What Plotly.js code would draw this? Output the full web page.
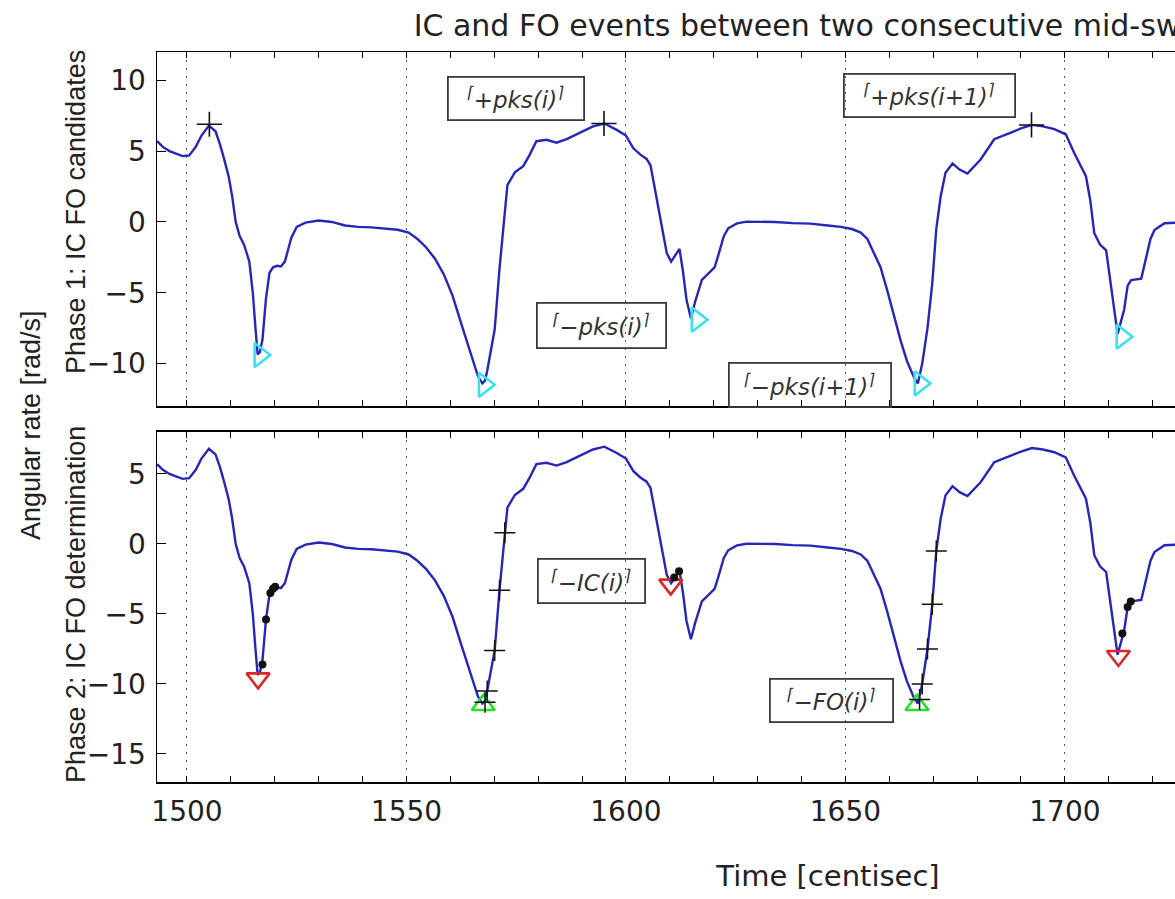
<!DOCTYPE html>
<html>
<head>
<meta charset="utf-8">
<script src="https://cdn.plot.ly/plotly-3.0.1.min.js"></script>
<style>
html, body { margin: 0; padding: 0; overflow: hidden; background: #fff; }
#chart { width: 1520px; height: 899px; }
</style>
</head>
<body>
<div id="chart"></div>
<script>
// ---- data ----
const time = [1493.2, 1494.5, 1496, 1497.5, 1499, 1500.5, 1502, 1503.3, 1505, 1506.5,
  1507.5, 1508.5, 1509.5, 1510.3, 1511.1, 1512, 1513, 1514.2, 1515, 1515.6,
  1516.1, 1516.6, 1517.2, 1518, 1518.8, 1519.6, 1520.5, 1521.4, 1522.3, 1523,
  1523.8, 1525, 1527, 1530, 1533, 1536, 1539, 1542, 1545, 1548,
  1550.5, 1552.5, 1554.5, 1556.5, 1558.5, 1560.5, 1562.5, 1564.5, 1566.3, 1567.3,
  1567.9, 1568.4, 1569.2, 1570.1, 1571.2, 1572.4, 1573, 1574.7, 1576.6, 1578,
  1579.6, 1581.9, 1584.2, 1586.5, 1588.7, 1592.5, 1595.1, 1597.9, 1600, 1601.7,
  1603.3, 1604.7, 1605.6, 1606.5, 1607.5, 1608.5, 1609.3, 1610.3, 1611.2, 1612.2,
  1613, 1613.8, 1614.8, 1615.8, 1617.3, 1618.8, 1620.2, 1621, 1622.3, 1623.3,
  1625.3, 1627.5, 1630, 1634, 1638, 1642, 1646, 1649, 1651.5, 1653.5,
  1655, 1656.5, 1658, 1659.5, 1661, 1662.6, 1664, 1665.5, 1666.5, 1667.5,
  1668.7, 1669.8, 1670.7, 1671.7, 1672.8, 1674.4, 1676, 1677.8, 1680.8, 1683.9,
  1687.7, 1690, 1692.5, 1695, 1697.6, 1700.2, 1702.1, 1704, 1704.8, 1705.8,
  1706.7, 1708, 1709.4, 1710.5, 1711.4, 1712, 1712.8, 1713.5, 1714.3, 1715.1,
  1717.4, 1718.5, 1719.5, 1720.4, 1722.7, 1725.6];
const rate = [5.7, 5.3, 5.0, 4.85, 4.65, 4.7, 5.3, 6.1, 6.8, 6.4,
  5.5, 4.4, 3.2, 1.8, 0.0, -1.0, -1.6, -2.8, -5.0, -7.5,
  -9.35, -9.2, -8.3, -5.4, -3.6, -3.2, -3.1, -3.15, -2.8, -2.0,
  -1.1, -0.35, -0.05, 0.1, 0.0, -0.25, -0.35, -0.38, -0.45, -0.55,
  -0.75, -1.2, -1.8, -2.6, -3.7, -5.2, -7.2, -9.2, -10.9, -11.4,
  -11.2, -10.5, -9.0, -7.6, -3.3, 0.8, 2.6, 3.5, 3.94, 4.7,
  5.7, 5.8, 5.6, 5.85, 6.2, 6.75, 6.95, 6.5, 6.1, 5.2,
  4.75, 4.45, 4.0, 2.5, 0.8, -1.0, -2.2, -2.8, -2.4, -1.9,
  -3.5, -5.5, -6.8, -5.6, -4.1, -3.65, -3.2, -2.4, -1.0, -0.45,
  -0.1, 0.02, 0.03, 0.0, -0.08, -0.12, -0.25, -0.35, -0.5, -0.75,
  -1.2, -2.2, -3.2, -4.8, -6.6, -8.4, -9.8, -10.9, -11.4, -10.0,
  -7.5, -4.3, -0.5, 1.8, 3.47, 4.13, 3.7, 3.42, 4.41, 5.84,
  6.31, 6.6, 6.85, 6.75, 6.55, 6.19, 4.89, 3.8, 3.23, 1.5,
  -0.8, -1.6, -2.0, -4.5, -6.8, -7.9, -7.0, -6.2, -4.5, -4.1,
  -4.0, -2.5, -1.2, -0.57, -0.09, -0.05];

// Phase 1 candidates
const posPeakT = [1505.1, 1595.0, 1692.4];
const posPeakV = [6.9, 6.95, 6.85];
const negPeakT = [1516.6, 1567.7, 1616.2, 1667.0, 1713.0];
const negPeakV = [-9.4, -11.5, -6.9, -11.4, -8.1];

// Phase 2 determination
const icT = [1516.2, 1610.2, 1712.2];
const icV = [-9.6, -2.9, -8.0];
const foT = [1567.5, 1666.3];
const foV = [-11.5, -11.5];
const icCandT = [1517.2, 1518.0, 1519.0, 1519.6, 1520.1, 1611.0, 1612.1, 1713.1, 1714.3, 1715.0];
const icCandV = [-8.6, -5.4, -3.5, -3.2, -3.05, -2.4, -1.95, -6.4, -4.5, -4.1];
const foCandT = [1567.9, 1568.4, 1570.1, 1571.2, 1572.4, 1666.9, 1667.5, 1668.7, 1669.8, 1670.7];
const foCandV = [-11.3, -10.5, -7.6, -3.3, 0.8, -11.1, -10.0, -7.5, -4.3, -0.5];

// tick labels shown on the time axis
const timeTicks = [1500, 1550, 1600, 1650, 1700];

const lineBlue = '#2626b8';
const traces = [
  {x: time, y: rate, xaxis: 'x', yaxis: 'y', mode: 'lines', line: {color: lineBlue, width: 2.4}, hoverinfo: 'skip'},
  {x: posPeakT, y: posPeakV, xaxis: 'x', yaxis: 'y', mode: 'markers',
   marker: {symbol: 'cross-thin', size: 18, color: '#111', line: {color: '#111', width: 1.6}}},
  {x: negPeakT, y: negPeakV, xaxis: 'x', yaxis: 'y', mode: 'markers',
   marker: {symbol: 'triangle-right-open', size: 21, color: '#3ae2ef', line: {color: '#3ae2ef', width: 2.6}}},

  {x: time, y: rate, xaxis: 'x2', yaxis: 'y2', mode: 'lines', line: {color: lineBlue, width: 2.4}, hoverinfo: 'skip'},
  {x: icT, y: icV, xaxis: 'x2', yaxis: 'y2', mode: 'markers',
   marker: {symbol: 'triangle-down-open', size: 20, color: '#d8282a', line: {color: '#d8282a', width: 2.6}}},
  {x: foT, y: foV, xaxis: 'x2', yaxis: 'y2', mode: 'markers',
   marker: {symbol: 'triangle-up-open', size: 20, color: '#2bdc2b', line: {color: '#2bdc2b', width: 2.6}}},
  {x: icCandT, y: icCandV, xaxis: 'x2', yaxis: 'y2', mode: 'markers',
   marker: {symbol: 'circle', size: 8, color: '#111'}},
  {x: foCandT, y: foCandV, xaxis: 'x2', yaxis: 'y2', mode: 'markers',
   marker: {symbol: 'cross-thin', size: 15, color: '#111', line: {color: '#111', width: 1.5}}}
];

const HFONT = 'DejaVu Sans, Verdana, sans-serif';      // horizontal texts (wide, as in the reference)
const VFONT = 'Liberation Sans, Arial, sans-serif';    // rotated texts
const xCommon = {
  range: [1493.17, 1798.9], tickmode: 'array', tickvals: timeTicks, ticktext: timeTicks.map(String),
  ticks: 'inside', ticklen: 6, tickcolor: '#000',
  showline: true, linecolor: '#000', linewidth: 1.5, mirror: 'ticks',
  showgrid: true, gridcolor: '#555', gridwidth: 1, griddash: '2px,6px', zeroline: false,
  minor: {dtick: 10, tick0: 1500, ticks: 'inside', ticklen: 6, tickcolor: '#000', showgrid: false},
  tickfont: {family: HFONT, size: 28, color: '#222'}, fixedrange: true
};
const yCommon = {
  tick0: 0, dtick: 5, ticks: 'inside', ticklen: 9, tickcolor: '#000',
  showline: true, linecolor: '#000', linewidth: 1.5, mirror: 'ticks',
  showgrid: false, zeroline: false, ticklabelstandoff: 4,
  tickfont: {family: HFONT, size: 28, color: '#222'}, fixedrange: true
};

function box(text, x, y, yref, w, h) {
  return {
    text: '<sup>⌈</sup>' + text + '<sup>⌉</sup>', x: x, y: y, xref: 'x', yref: yref, showarrow: false,
    xanchor: 'center', yanchor: 'middle', width: w - 11, height: h - 11,
    bordercolor: '#3a3a3a', borderwidth: 1.8, borderpad: 4, bgcolor: 'rgba(255,255,255,0)',
    font: {family: HFONT, size: 23, color: '#333', style: 'italic'}
  };
}
function vlabel(text, xpx, ypx) {
  // positions given in page pixels, converted to paper fractions of the plot area (157..1499, 52..782)
  return {text: text, xref: 'paper', yref: 'paper', x: (xpx - 157) / 1342, y: (782 - ypx) / 730,
    textangle: -90, showarrow: false, xanchor: 'center', yanchor: 'middle',
    font: {family: VFONT, size: 27, color: '#222'}};
}

const layout = {
  width: 1520, height: 899,
  margin: {l: 157, r: 21, t: 52, b: 117},
  paper_bgcolor: '#fff', plot_bgcolor: '#fff', showlegend: false,
  title: {text: 'IC and FO events between two consecutive mid-swings',
          font: {family: HFONT, size: 30, color: '#222'},
          x: 0.5, xref: 'paper', xanchor: 'center', y: 0.972, yref: 'container', yanchor: 'middle'},
  xaxis: Object.assign({}, xCommon, {anchor: 'y', domain: [0, 1], showticklabels: false}),
  yaxis: Object.assign({}, yCommon, {anchor: 'x', domain: [0.515, 1], range: [-13, 12]}),
  xaxis2: Object.assign({}, xCommon, {anchor: 'y2', domain: [0, 1], showticklabels: true, ticklabelstandoff: 4,
    title: {text: 'Time [centisec]', standoff: 38, font: {family: HFONT, size: 29, color: '#222'}}}),
  yaxis2: Object.assign({}, yCommon, {anchor: 'x2', domain: [0, 0.4795], range: [-17, 8]}),
  annotations: [
    vlabel('Angular rate [rad/s]', 31, 425),
    vlabel('Phase 1: IC FO candidates', 76, 212),
    vlabel('Phase 2: IC FO determination', 76, 605),
    box('+pks(i)', 1575.06, 8.73, 'y', 137, 44),
    box('+pks(i+1)', 1669.25, 8.94, 'y', 172, 44),
    box('−pks(i)', 1594.53, -7.33, 'y', 130, 46),
    box('−pks(i+1)', 1642.03, -11.49, 'y', 163, 45),
    box('−IC(i)', 1592.26, -2.61, 'y2', 108, 45),
    box('−FO(i)', 1646.92, -11.18, 'y2', 124, 44)
  ]
};

Plotly.newPlot('chart', traces, layout, {displayModeBar: false, staticPlot: true});
</script>
</body>
</html>
